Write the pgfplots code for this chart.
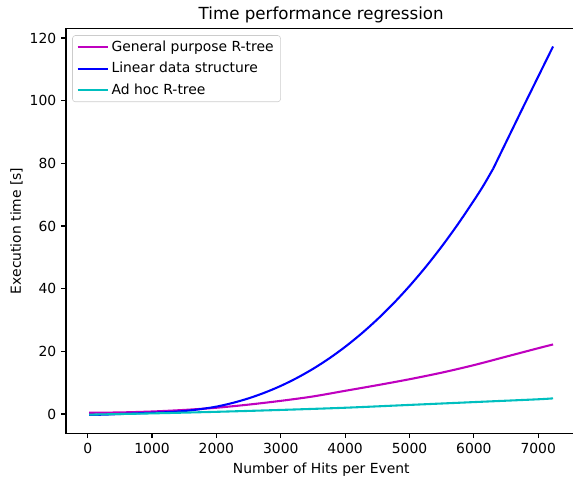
\documentclass[border=0pt]{standalone}
\usepackage{fontspec}
\setmainfont{DejaVu Sans}
\usepackage{pgfplots}
\pgfplotsset{compat=1.18}
\definecolor{mplm}{rgb}{0.75,0,0.75}
\definecolor{mplb}{rgb}{0,0,1}
\definecolor{mplc}{rgb}{0,0.75,0.75}
\begin{document}
\begin{tikzpicture}
\path[use as bounding box] (-47.52pt,-33.62pt) rectangle (365.04pt,311.98pt);
\begin{axis}[
  at={(0,0)}, anchor=south west,
  scale only axis,
  width=367.5pt, height=291.6pt,
  xmin=-337, xmax=7593,
  ymin=-6.16, ymax=123.1,
  xtick={0,1000,...,7000},
  ytick={0,20,...,120},
  scaled x ticks=false,
  /pgf/number format/1000 sep={},
  /pgf/number format/assume math mode=true,
  tick align=outside,
  major tick length=3.5pt,
  tick style={line width=0.8pt, black},
  axis line style={line width=0.8pt},
  xtick pos=lower, ytick pos=left,
  tick label style={font=\fontsize{10}{12}\selectfont},
  title={Time performance regression},
  title style={font=\fontsize{12}{14}\selectfont, at={(0.5,1)}, anchor=base, yshift=0.5pt},
  xlabel={Number of Hits per Event},
  xlabel style={font=\fontsize{10}{12}\selectfont, at={(axis description cs:0.5,0)}, anchor=base, yshift=-29pt},
  ylabel={Execution time [s]},
  ylabel style={font=\fontsize{10}{12}\selectfont, at={(axis description cs:-0.0882,0.5)}, anchor=base},
  legend style={at={(axis description cs:0,1)}, anchor=north west, xshift=4.5pt, yshift=-5pt,
    draw=black!20, rounded corners=2pt, font=\fontsize{10}{12}\selectfont,
    inner xsep=3pt, inner ysep=2pt, row sep=2.2pt, fill=white, fill opacity=0.8, text opacity=1},
  legend cell align=left,
  legend image code/.code={\draw[#1] (0pt,0pt) -- (21.6pt,0pt);},
]
\addplot[mplm, line width=1.5pt, smooth] coordinates {
(24,0.4) (500,0.5) (1000,0.8) (1500,1.3) (2000,2.0) (2500,3.0) (3000,4.2) (3500,5.6) (4000,7.4) (4500,9.2) (5000,11.1) (5500,13.2) (6000,15.6) (6500,18.3) (7000,21.0) (7230,22.2)
};
\addlegendentry{General purpose R-tree}
\addplot[mplb, line width=1.5pt, smooth] coordinates {
(24,-0.3) (250,-0.2) (500,0.0) (750,0.2) (1000,0.4) (1250,0.6) (1500,0.95) (1750,1.55) (2000,2.35) (2250,3.52) (2500,5.0) (2750,6.82) (3000,8.97) (3250,11.5) (3500,14.4) (3750,17.71) (4000,21.44) (4250,25.6) (4500,30.21) (4750,35.28) (5000,40.84) (5250,46.89) (5500,53.45) (5750,60.53) (6000,68.14) (6150,72.97) (6300,78.3)
};
\addlegendentry{Linear data structure}
\addplot[mplc, line width=1.5pt, smooth] coordinates {
(24,-0.2) (1000,0.2) (2000,0.7) (3000,1.3) (4000,2.0) (5000,2.9) (6000,3.8) (7000,4.7) (7230,5.0)
};
\addlegendentry{Ad hoc R-tree}
\addplot[mplb, line width=1.5pt, forget plot] coordinates {
(6300,78.3) (6750,97.3) (7230,117.3)
};
\end{axis}
\end{tikzpicture}
\end{document}
